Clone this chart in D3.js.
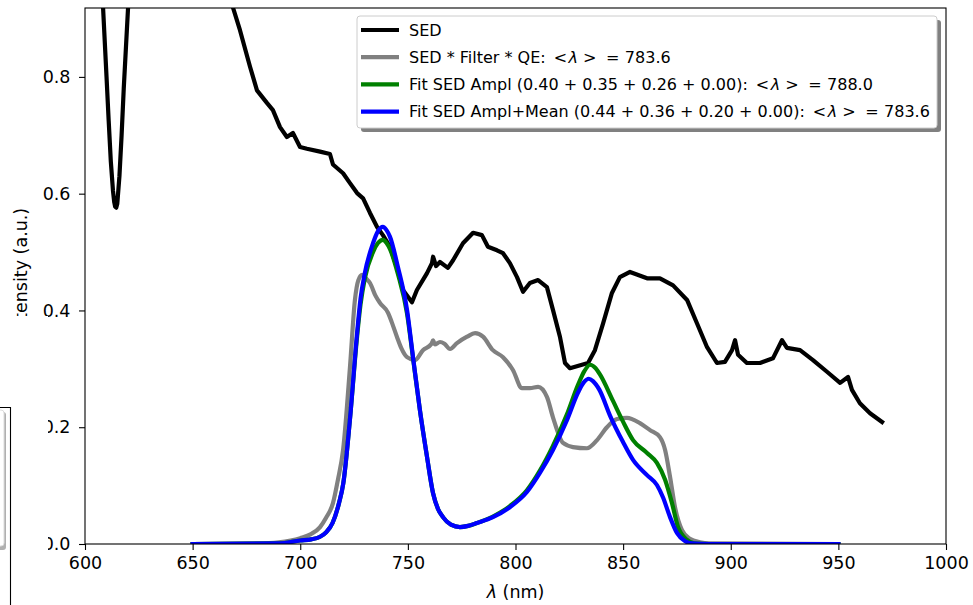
<!DOCTYPE html>
<html>
<head>
<meta charset="utf-8">
<script src="https://cdn.jsdelivr.net/npm/d3@7"></script>
<style>
  body { margin: 0; background: #fff; }
  svg { display: block; font-family: "DejaVu Sans", sans-serif; }
  text { white-space: pre; }
</style>
</head>
<body>
<div id="my_dataviz"></div>
<script>
// SED (black)
var sedWl  = [604, 608.4, 610, 611, 612, 613, 613.6, 614, 614.5, 615, 616, 617, 618, 620, 624, 640, 660, 668.8,
  672.0, 676.7, 679.9, 684.6, 687.3, 690.6, 693.8, 696.6, 699.9, 703.1, 709.2, 713.8, 715.2, 719.9, 723.1, 726.4, 729.2,
  732.4, 735.7, 738.4, 741.7, 744.9, 747.7, 751.9, 754.2, 758.9, 761.2, 761.7, 763.1, 764.9, 768.6, 771.0, 775.6,
  780.3, 784.4, 787.2, 791.4, 794.2, 797.4, 800.7, 803.5, 806.7, 810.5, 814.6, 817.4, 820.7, 823.0, 825.3, 830.9,
  833.7, 836.9, 840.7, 844.8, 848.5, 853.2, 861.1, 867.1, 873.2, 879.7, 884.3, 889.0, 893.6, 897.3, 900.6, 902.0,
  903.4, 907.5, 913.6, 919.6, 923.8, 926.1, 932.2, 938.2, 944.7, 950.8, 954.5, 956.3, 960.0, 964.7, 970.3];
var sedVal = [1.25, 0.918, 0.80, 0.725, 0.655, 0.605, 0.585, 0.578, 0.576, 0.583, 0.63, 0.70, 0.78, 0.918, 1.2, 1.5, 1.3, 0.918,
  0.880, 0.817, 0.777, 0.755, 0.743, 0.714, 0.697, 0.704, 0.680, 0.677, 0.672, 0.668, 0.650, 0.635, 0.618, 0.601, 0.592,
  0.567, 0.543, 0.529, 0.509, 0.474, 0.435, 0.414, 0.435, 0.464, 0.481, 0.492, 0.476, 0.483, 0.473, 0.486, 0.515,
  0.533, 0.529, 0.509, 0.503, 0.498, 0.481, 0.457, 0.432, 0.447, 0.452, 0.440, 0.401, 0.354, 0.310, 0.301, 0.307,
  0.310, 0.332, 0.378, 0.430, 0.457, 0.466, 0.455, 0.455, 0.443, 0.418, 0.378, 0.337, 0.310, 0.312, 0.332, 0.349,
  0.324, 0.310, 0.310, 0.318, 0.349, 0.336, 0.332, 0.315, 0.295, 0.276, 0.286, 0.264, 0.241, 0.224, 0.209];

// SED * Filter * QE (grey)
var filtWl  = [650, 680, 690, 700, 705, 709.2, 712, 715.2, 717.5, 719.9, 723.1, 725.4, 727, 728.7, 730.5, 732.4, 735,
  737, 740.8, 742.5, 744.9, 747, 749.6, 753.3, 757, 761, 761.7, 762.5, 764.9, 767, 769.6, 772.8, 777.5, 781.2, 784.9,
  789.5, 794.2, 798.8, 803, 806.7, 810.5, 814.6, 817.4, 822.1, 826.7, 833.2, 837.9, 842.5, 847.2, 851.8, 857.8,
  862.5, 867.1, 869.5, 871.8, 874.1, 877.3, 881, 885.7, 890, 950];
var filtVal = [0, 0.001, 0.003, 0.010, 0.017, 0.029, 0.045, 0.070, 0.11, 0.161, 0.303, 0.418, 0.452, 0.461, 0.455, 0.447, 0.425,
  0.413, 0.396, 0.38, 0.355, 0.335, 0.320, 0.315, 0.332, 0.343, 0.349, 0.342, 0.346, 0.343, 0.334, 0.344, 0.355, 0.361, 0.355,
  0.332, 0.320, 0.298, 0.267, 0.267, 0.269, 0.252, 0.217, 0.173, 0.166, 0.164, 0.178, 0.200, 0.214, 0.216, 0.207,
  0.195, 0.183, 0.161, 0.115, 0.063, 0.024, 0.009, 0.003, 0.001, 0];

// Fit SED Ampl (green)
var fitAWl  = [650, 690, 700, 705, 709, 712, 715, 718, 720, 723, 726.4, 728, 730, 733.8, 736, 738.4, 740, 741.7, 745.4,
  749.6, 752.4, 755.6, 758.9, 761.7, 764, 766.3, 770, 774.2, 778, 782.1, 789.5, 797.4, 805.3, 811.4, 817.4, 823.9,
  829, 832, 834.6, 837, 839.3, 845.3, 849.9, 854.6, 861.1, 865.7, 869.5, 872.7, 875.5, 879.7, 883, 890, 950];
var fitAVal = [0, 0.001, 0.006, 0.008, 0.012, 0.02, 0.036, 0.07, 0.104, 0.21, 0.355, 0.41, 0.455, 0.50, 0.515, 0.521, 0.516, 0.505, 0.462,
  0.395, 0.318, 0.229, 0.149, 0.087, 0.06, 0.046, 0.033, 0.029, 0.031, 0.036, 0.047, 0.065, 0.092, 0.126, 0.168, 0.222,
  0.272, 0.296, 0.307, 0.302, 0.29, 0.245, 0.21, 0.178, 0.156, 0.139, 0.110, 0.070, 0.029, 0.007, 0.001, 0, 0];

// Fit SED Ampl+Mean (blue)
var fitMWl  = [650, 690, 700, 705, 709, 712, 715, 718, 720, 723, 726.4, 728, 730, 733.8, 736, 738.4, 740, 741.7, 745.4,
  749.6, 752.4, 755.6, 758.9, 761.7, 764, 766.3, 770, 774.2, 778, 782.1, 789.5, 797.4, 805.3, 811.4, 817.4, 823.9,
  829, 832, 834, 836, 839, 843.9, 849.9, 854.6, 861.1, 865.7, 868.5, 871.8, 875, 878.7, 882, 890, 950];
var fitMVal = [0, 0.001, 0.006, 0.008, 0.012, 0.02, 0.036, 0.07, 0.104, 0.21, 0.361, 0.42, 0.464, 0.515, 0.535, 0.543, 0.538, 0.526, 0.474,
  0.401, 0.32, 0.229, 0.149, 0.087, 0.06, 0.046, 0.033, 0.029, 0.031, 0.036, 0.046, 0.063, 0.089, 0.122, 0.161, 0.212,
  0.259, 0.278, 0.283, 0.279, 0.264, 0.22, 0.175, 0.144, 0.118, 0.101, 0.08, 0.046, 0.019, 0.005, 0.001, 0, 0];

var xTicks = [600, 650, 700, 750, 800, 850, 900, 950, 1000];
var yTicks = [0.0, 0.2, 0.4, 0.6, 0.8];

var legendLabels = ["SED", "SED * Filter * QE:", "Fit SED Ampl (0.40 + 0.35 + 0.26 + 0.00):",
                    "Fit SED Ampl+Mean (0.44 + 0.36 + 0.20 + 0.00):"];
var legendMeans = [null, "783.6", "788.0", "783.6"];
var legendColors = ["black", "#808080", "green", "blue"];

var W = 973, H = 605;
var margin = {top: 8, right: 27, bottom: 61, left: 85},
    width = W - margin.left - margin.right,
    height = H - margin.top - margin.bottom;

var svg0 = d3.select("#my_dataviz").append("svg")
    .attr("width", W).attr("height", H);
var svg = svg0.append("g")
    .attr("transform", "translate(" + margin.left + "," + margin.top + ")");

var x = d3.scaleLinear().domain([600, 1000]).range([0, width]);
var y = d3.scaleLinear().domain([0, 0.918]).range([height, 0]);

svg.append("clipPath").attr("id", "clip")
  .append("rect").attr("width", width).attr("height", height);

function zip(a, b) { return a.map(function(d, i) { return [d, b[i]]; }); }

var lineLin = d3.line().x(function(d) { return x(d[0]); }).y(function(d) { return y(d[1]); });
var lineSmooth = d3.line().curve(d3.curveMonotoneX)
  .x(function(d) { return x(d[0]); }).y(function(d) { return y(d[1]); });

var plot = svg.append("g").attr("clip-path", "url(#clip)");
[[zip(sedWl, sedVal), "black", lineLin],
 [zip(filtWl, filtVal), "#808080", lineSmooth],
 [zip(fitAWl, fitAVal), "green", lineSmooth],
 [zip(fitMWl, fitMVal), "blue", lineSmooth]].forEach(function(s) {
  plot.append("path")
    .attr("d", s[2](s[0]))
    .attr("fill", "none")
    .attr("stroke", s[1])
    .attr("stroke-width", 4.2)
    .attr("stroke-linejoin", "round")
    .attr("stroke-linecap", "square");
});

// axes
var axis_x = svg.append("g")
  .attr("transform", "translate(0," + height + ")")
  .call(d3.axisBottom(x).tickValues(xTicks).tickFormat(d3.format("d")).tickSize(6).tickPadding(6.5));
var axis_y = svg.append("g")
  .call(d3.axisLeft(y).tickValues(yTicks).tickFormat(d3.format(".1f")).tickSize(6).tickPadding(8.5));
[axis_x, axis_y].forEach(function(a) {
  a.select(".domain").remove();
  a.selectAll(".tick line").attr("stroke", "black").attr("stroke-width", 1.1);
  a.selectAll(".tick text")
    .attr("font-size", 17.5)
    .attr("font-family", "DejaVu Sans")
    .attr("fill", "black");
});
svg.append("rect")
  .attr("width", width).attr("height", height)
  .attr("fill", "none").attr("stroke", "black").attr("stroke-width", 1.1);

// axis labels
var xl = svg.append("text")
  .attr("x", width / 2).attr("y", height + 54)
  .attr("text-anchor", "middle").attr("font-size", 17.5);
xl.append("tspan").attr("font-style", "italic").text("λ");
xl.append("tspan").text(" (nm)");

svg.append("text")
  .attr("transform", "translate(" + (-margin.left + 27) + "," + (height / 2 - 4) + ") rotate(-90)")
  .attr("text-anchor", "middle").attr("font-size", 17.5)
  .text("Intensity (a.u.)");

// legend
var lg = svg0.append("g").attr("transform", "translate(357,16)");
lg.append("rect").attr("x", 4).attr("y", 4).attr("width", 580).attr("height", 112)
  .attr("rx", 3).attr("fill", "#808080");
lg.append("rect").attr("x", 0).attr("y", 0).attr("width", 580).attr("height", 112)
  .attr("rx", 3).attr("fill", "white").attr("stroke", "#cccccc").attr("stroke-width", 1);
legendLabels.forEach(function(lab, i) {
  var yy = 14 + i * 27.2;
  lg.append("line").attr("x1", 4).attr("x2", 42).attr("y1", yy).attr("y2", yy)
    .attr("stroke", legendColors[i]).attr("stroke-width", 4.2);
  var t = lg.append("text").attr("x", 52).attr("y", yy).attr("dy", "0.36em")
    .attr("font-size", 16);
  t.append("tspan").text(lab);
  if (legendMeans[i]) {
    // mathtext style spacing for  < λ > = value
    t.append("tspan").attr("dx", 8).text("<");
    t.append("tspan").attr("dx", 1.5).attr("font-style", "italic").text("λ");
    t.append("tspan").attr("dx", 5).text(">");
    t.append("tspan").attr("dx", 9.5).text("=");
    t.append("tspan").attr("dx", 5.5).text(legendMeans[i]);
  }
});

// edge of the neighbouring panel that overlaps the left side
svg0.append("rect").attr("x", 0).attr("y", 316).attr("width", 48).attr("height", 289).attr("fill", "white");
svg0.append("rect").attr("x", -6).attr("y", 412).attr("width", 12).attr("height", 138)
  .attr("rx", 3).attr("fill", "#b0b0b0");
svg0.append("rect").attr("x", -6).attr("y", 410).attr("width", 10).attr("height", 136)
  .attr("rx", 3).attr("fill", "white").attr("stroke", "#dddddd");
svg0.append("path").attr("d", "M0,407.5H10.5V605").attr("fill", "none").attr("stroke", "black").attr("stroke-width", 1.1);
</script>
</body>
</html>
